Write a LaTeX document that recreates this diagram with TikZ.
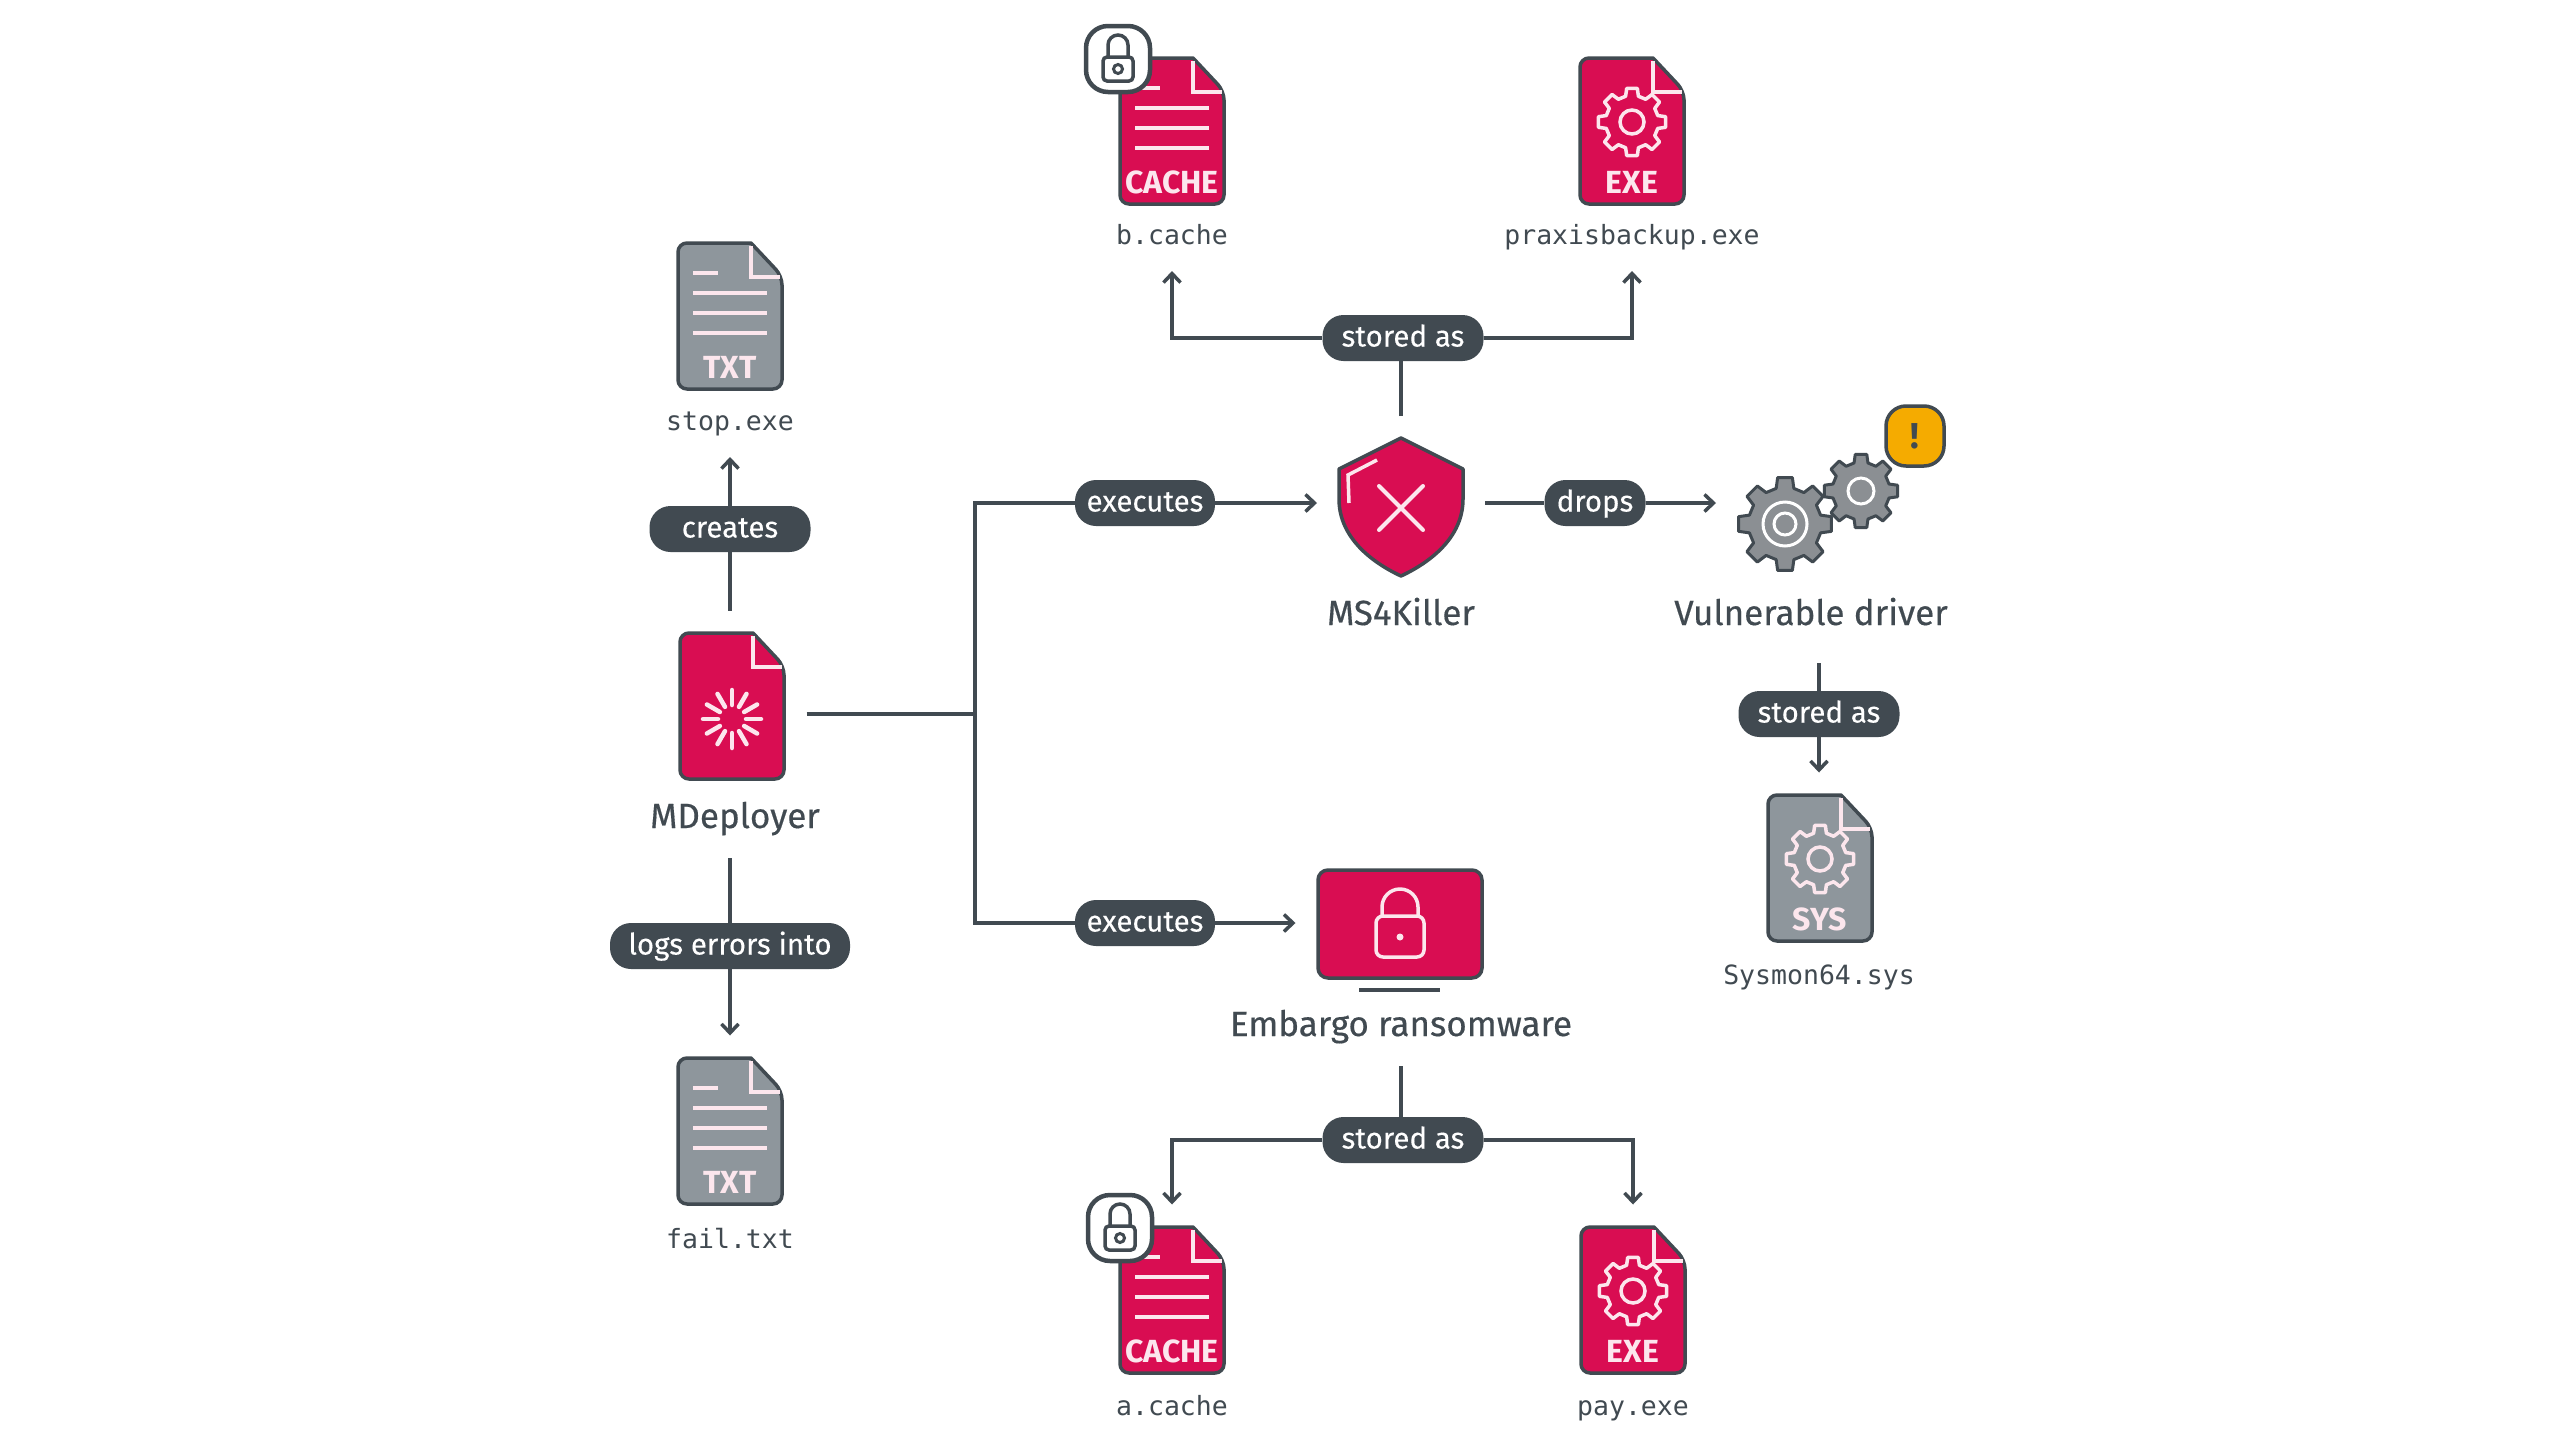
\documentclass[tikz,border=0pt]{standalone}
\usepackage{fontspec}
\setmainfont{Fira Sans}
\newfontfamily\monofont{DejaVu Sans Mono}
\usetikzlibrary{arrows.meta}
\definecolor{inkdark}{HTML}{414A51}
\definecolor{filered}{HTML}{D90D52}
\definecolor{filegrey}{HTML}{8E969C}
\definecolor{gearskin}{HTML}{8B8F93}
\definecolor{palepink}{HTML}{FCE6ED}
\definecolor{warnamber}{HTML}{F5AB00}

\begin{document}
\begin{tikzpicture}[x=1pt,y=-1pt]
% Icon and label styles
\tikzset{
    iconbox/.style={minimum width=#1,inner sep=0pt,outer sep=22pt},
    pillbox/.style={fill=inkdark,text=white,rounded corners=21pt,minimum width=#1,minimum height=46pt,inner xsep=8pt,inner ysep=0pt,
        font=\fontsize{29.5}{34}\selectfont\addfontfeature{FakeBold=0.2},text height=23pt,text depth=6pt},
    itemname/.style={text=inkdark,inner sep=0pt,outer sep=22pt,font=\fontsize{35}{40}\selectfont\addfontfeature{FakeBold=0.4},text height=30pt,text depth=8pt},
    filename/.style={text=inkdark,inner sep=0pt,outer sep=20.5pt,font=\fontsize{26.5}{32}\selectfont\monofont,text height=25pt,text depth=6pt},
    filetag/.style={text=palepink,inner sep=0pt,font=\fontsize{32}{36}\selectfont\bfseries},
    wire/.style={draw=inkdark,line width=3.5pt},
    wiretip/.style={wire,-{Straight Barb[length=9pt,width=17pt,line width=3.5pt]}},
    % Icon parts
    pics/gearshape/.style={code={
        \path[pic actions,line join=round] (-9:1) \foreach \a in {0,45,...,315} {-- (\a-9:1) -- (\a+9:1) -- (\a+14:.78) -- (\a+31:.78)} -- cycle;
    }},
    pics/fileicon/.style 2 args={code={
        \draw[inkdark,fill=#1,line width=3.5pt,line join=round] (21,-73) [rounded corners=9pt] -- (-52,-73) -- (-52,73) -- (52,73) -- (52,-40) [sharp corners] -- cycle;
        \draw[palepink,line width=3.5pt] (21,-70) -- (21,-39) -- (50,-39);
        \node[filetag] (-tag) at (0,51) {#2};
    }},
    pics/textrows/.style={code={
        \draw[palepink,line width=3.5pt] (-37,-43) -- (-12,-43);
        \foreach \y in {-23,-3,17} {\draw[palepink,line width=3.5pt] (-37,\y) -- (37,\y);}
    }},
    pics/gearmark/.style={code={
        \pic[draw=palepink,line width=3.5pt,scale=34] at (0,-9) {gearshape};
        \draw[palepink,line width=3.5pt] (0,-9) circle (12pt);
    }},
    pics/spinner/.style={code={
        \foreach \a in {0,30,...,330} {\draw[palepink,line width=4.5pt,line cap=round] (0,13)+(\a:14) -- +(\a:29);}
    }},
    pics/lockbadge/.style={code={
        \draw[inkdark,fill=white,line width=4.5pt,rounded corners=22pt] (-32,-33) rectangle (32,33);
        \draw[inkdark,line width=3.5pt,rounded corners=4pt] (-15,-2) rectangle (15,22);
        \draw[inkdark,line width=3.5pt,rounded corners=10pt] (-10,-2) -- (-10,-24) -- (10,-24) -- (10,-2);
        \draw[inkdark,line width=3pt] (0,10) circle (4.5pt);
    }},
    pics/shieldicon/.style={code={
        \draw[inkdark,fill=filered,line width=3.5pt,line join=round] (0,-69) -- (62,-38) -- (62,-8) .. controls (62,30) and (30,55) .. (0,69) .. controls (-30,55) and (-62,30) .. (-62,-8) -- (-62,-38) -- cycle;
        \draw[palepink,line width=3.5pt] (-24,-47) -- (-53,-32) -- (-52,-4);
        \draw[palepink,line width=4pt,line cap=round] (-22,-21) -- (22,23) (22,-21) -- (-22,23);
    }},
    pics/screenicon/.style={code={
        \draw[inkdark,fill=filered,line width=3.5pt,rounded corners=10pt] (-82,-54) rectangle (82,54);
        \draw[inkdark,line width=4pt] (-41,66) -- (40,66);
        \draw[palepink,line width=3.5pt,rounded corners=7pt] (-24,-8) rectangle (24,33);
        \draw[palepink,line width=3.5pt,rounded corners=18pt] (-18,-8) -- (-18,-35) -- (18,-35) -- (18,-8);
        \fill[palepink] (0,13) circle (3.5pt);
    }}
}
\useasboundingbox (0,0) rectangle (2560,1440);
\fill[white] (0,0) rectangle (2560,1440);

% Left column
\node[iconbox=105pt,minimum height=147pt] (stop) at (730,316){};
\pic (stopicon) at (stop) {fileicon={filegrey}{TXT}};
\pic at (stop) {textrows};
\node[filename] (stopname) at (730,421){stop.exe};
\node[pillbox=161pt] (creates) at (730,529){creates};
\node[iconbox=105pt,minimum height=147pt] (mdeployer) at (732,706){};
\pic (mdeployericon) at (mdeployer) {fileicon={filered}{}};
\pic at (mdeployer) {spinner};
\node[itemname] (mdeployername) at (735,817){MDeployer};
\node[pillbox=240pt] (logs) at (730,946){logs errors into};
\node[iconbox=105pt,minimum height=147pt] (fail) at (730,1131){};
\pic (failicon) at (fail) {fileicon={filegrey}{TXT}};
\pic at (fail) {textrows};
\node[filename] (failname) at (730,1239){fail.txt};

% Top row
\node[iconbox=105pt,minimum height=147pt] (bcache) at (1172,131){};
\pic (bcacheicon) at (bcache) {fileicon={filered}{CACHE}};
\pic at (bcache) {textrows};
\pic at (1118,59) {lockbadge};
\node[filename] (bcachename) at (1172,235){b.cache};
\node[iconbox=105pt,minimum height=147pt] (praxis) at (1632,131){};
\pic (praxisicon) at (praxis) {fileicon={filered}{EXE}};
\pic at (praxis) {gearmark};
\node[filename] (praxisname) at (1632,235){praxisbackup.exe};
\node[pillbox=161pt] (storedtop) at (1403,338){stored as};

% Middle row
\node[pillbox=140pt] (execupper) at (1145,503){executes};
\node[iconbox=124pt,minimum height=138pt] (shield) at (1401,507){};
\pic at (shield) {shieldicon};
\node[itemname] (shieldname) at (1401,614){MS4Killer};
\node[pillbox=101pt] (drops) at (1595,503){drops};
\node[iconbox=94pt,minimum height=94pt] (driver) at (1785,524){};
\pic[draw=inkdark,fill=gearskin,line width=3pt,scale=37] at (1861,491) {gearshape};
\draw[white,line width=3pt] (1861,491) circle (13pt);
\pic[draw=inkdark,fill=gearskin,line width=3pt,scale=47] at (driver) {gearshape};
\draw[white,line width=3pt] (driver) circle (22pt);
\draw[white,line width=3pt] (driver) circle (11pt);
\node[draw=inkdark,fill=warnamber,line width=3.5pt,rounded corners=20pt,minimum width=58pt,minimum height=60pt,inner sep=0pt,text=inkdark,font=\fontsize{36}{40}\selectfont\bfseries] (warn) at (1915,436){!};
\node[itemname] (drivername) at (1811,614){Vulnerable driver};
\node[pillbox=161pt] (storedsys) at (1819,714){stored as};
\node[iconbox=105pt,minimum height=147pt] (sys) at (1820,868){};
\pic (sysicon) at (sys) {fileicon={filegrey}{SYS}};
\pic at (sys) {gearmark};
\node[filename] (sysname) at (1819,975){Sysmon64.sys};

% Bottom row
\node[pillbox=140pt] (execlower) at (1145,923){executes};
\node[iconbox=165pt,minimum height=108pt] (embargo) at (1400,924){};
\pic at (embargo) {screenicon};
\node[itemname] (embargoname) at (1401,1025){Embargo ransomware};
\node[pillbox=161pt] (storedlow) at (1403,1140){stored as};
\node[iconbox=105pt,minimum height=147pt] (acache) at (1172,1300){};
\pic (acacheicon) at (acache) {fileicon={filered}{CACHE}};
\pic at (acache) {textrows};
\pic at (1120,1228) {lockbadge};
\node[filename] (acachename) at (1172,1406){a.cache};
\node[iconbox=105pt,minimum height=147pt] (pay) at (1633,1300){};
\pic (payicon) at (pay) {fileicon={filered}{EXE}};
\pic at (pay) {gearmark};
\node[filename] (payname) at (1633,1406){pay.exe};

% Connectors
\coordinate (trunk) at (975,714);
\draw[wire] (creates.south |- mdeployer.north) -- (creates.south);
\draw[wiretip] (creates.north) -- (stopname.south);
\draw[wire] (logs.north |- mdeployername.south) -- (logs.north);
\draw[wiretip] (logs.south) -- (fail.north);
\draw[wire] (mdeployer.east |- trunk) -- (trunk);
\draw[wire] (execupper.west) -| (trunk) |- (execlower.west);
\draw[wiretip] (execupper.east) -- (execupper.east -| shield.west);
\draw[wiretip] (execlower.east) -- (execlower.east -| embargo.west);
\draw[wire] (shield.north) -- (shield.north |- storedtop.south);
\draw[wiretip] (storedtop.west) -| (bcachename.south);
\draw[wiretip] (storedtop.east) -| (praxisname.south);
\draw[wire] (shield.east |- drops) -- (drops.west);
\draw[wiretip] (drops.east) -- (drops.east -| driver.west);
\draw[wire,shorten <=8pt] (storedsys.north |- drivername.south) -- (storedsys.north);
\draw[wiretip] (storedsys.south) -- (sys.north -| storedsys.south);
\draw[wire] (embargoname.south) -- (embargoname.south |- storedlow.north);
\draw[wiretip] (storedlow.west) -| (acache.north);
\draw[wiretip] (storedlow.east) -| (pay.north);
\end{tikzpicture}
\end{document}
